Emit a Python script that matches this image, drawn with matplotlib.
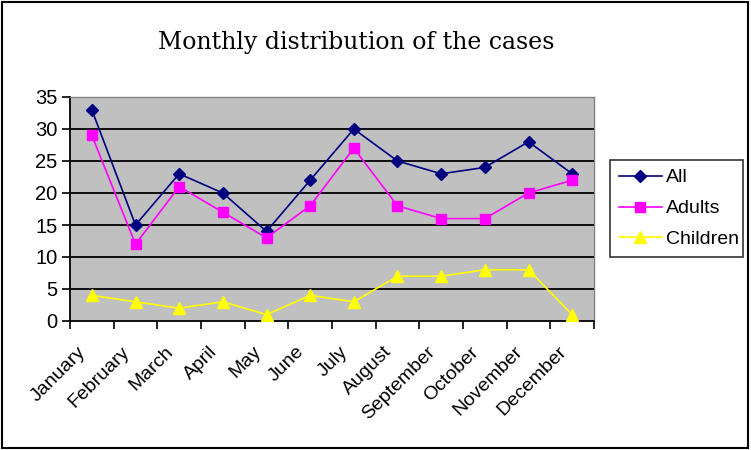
import matplotlib
matplotlib.use("Agg")
import matplotlib.pyplot as plt
from matplotlib.patches import Rectangle

months = ["January", "February", "March", "April", "May", "June", "July",
          "August", "September", "October", "November", "December"]
all_cases = [33, 15, 23, 20, 14, 22, 30, 25, 23, 24, 28, 23]
adults = [29, 12, 21, 17, 13, 18, 27, 18, 16, 16, 20, 22]
children = [4, 3, 2, 3, 1, 4, 3, 7, 7, 8, 8, 1]

plt.rcParams['font.family'] = ['Liberation Sans', 'DejaVu Sans']

fig = plt.figure(figsize=(7.51, 4.5), dpi=100)
ax = fig.add_axes([70/751, 1 - 321/450, 524/751, 224/450])

x = list(range(len(months)))
ax.plot(x, all_cases, color='#000080', marker='D', markersize=6, lw=1.2, label='All', zorder=3)
ax.plot(x, adults, color='#FF00FF', marker='s', markersize=7, lw=1.2, label='Adults', zorder=3)
ax.plot(x, children, color='#FFFF00', marker='^', markersize=8.5, lw=1.2, label='Children', zorder=3)

ax.set_facecolor('#C0C0C0')
ax.set_xlim(-0.5, 11.5)
ax.set_ylim(0, 35)
ax.set_yticks(range(0, 36, 5))
for yv in range(5, 35, 5):
    ax.axhline(yv, color='black', lw=1.3, zorder=1)

# labels sit a little left of the category centre, tick marks at boundaries
ax.set_xticks([i - 0.33 for i in x])
ax.set_xticklabels(months, rotation=45, ha='right', va='top', rotation_mode='anchor', fontsize=14)
ax.tick_params(axis='x', which='major', length=0, pad=16)
ax.set_xticks([i - 0.5 for i in range(13)], minor=True)
ax.tick_params(axis='x', which='minor', length=6, width=1.2, direction='out')
ax.tick_params(axis='y', length=6, width=1.2, labelsize=14.5, pad=3)

for s in ['top', 'right']:
    ax.spines[s].set_color('#808080')
    ax.spines[s].set_linewidth(1)
for s in ['left', 'bottom']:
    ax.spines[s].set_color('black')
    ax.spines[s].set_linewidth(1.3)

fig.text(356/751, 1 - 42/450, "Monthly distribution of the cases", ha='center', va='center',
         fontsize=17, family=['DejaVu Serif'])

leg = ax.legend(loc='center left', bbox_to_anchor=(610/751, 1 - 258/450, 133/751, 99/450),
                bbox_transform=fig.transFigure, mode='expand', fontsize=14, frameon=True,
                fancybox=False, edgecolor='black', borderaxespad=0, handlelength=2.2,
                handletextpad=0.25, borderpad=0.45, labelspacing=0.68)
leg.get_frame().set_linewidth(1.2)

fig.patches.append(Rectangle((2/751, 2/450), 746/751, 446/450, transform=fig.transFigure,
                             fill=False, edgecolor='black', lw=1.5))

fig.savefig("out.png", dpi=100)
